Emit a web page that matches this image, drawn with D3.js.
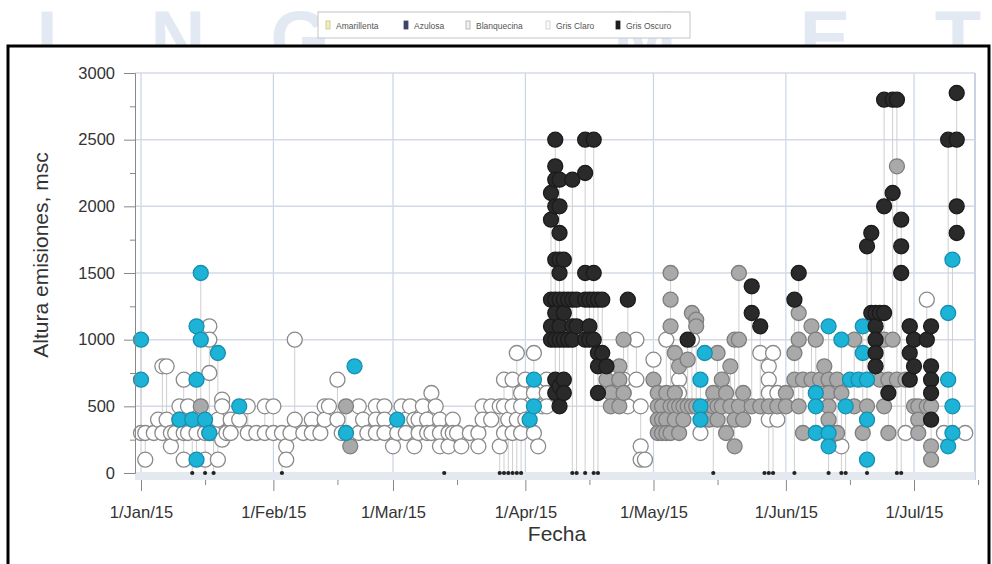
<!DOCTYPE html>
<html>
<head>
<meta charset="utf-8">
<script src="https://cdn.jsdelivr.net/npm/d3@7"></script>
<style>
  body { margin: 0; background: #fff; }
  svg { display: block; font-family: "Liberation Sans", Arial, sans-serif; }
</style>
</head>
<body>
<div id="chart"></div>
<script>
// observations per date: [month-day, [heights in m]]
const blanquecina = [
  ["01-01",[300]],["01-02",[300,100]],["01-04",[300]],["01-05",[400]],["01-06",[800,300]],["01-07",[800,400]],
  ["01-08",[300,200]],["01-09",[300]],["01-10",[500,400]],["01-11",[700,300,100]],["01-12",[500,300]],["01-14",[300]],
  ["01-16",[300,100]],["01-17",[1100,1000,750,300]],["01-18",[300]],["01-19",[400,100]],["01-20",[550,500,250]],
  ["01-21",[300]],["01-22",[400,300]],["01-24",[400]],["01-26",[500,300]],["01-28",[300]],["01-30",[500,300]],
  ["02-01",[500,300]],["02-03",[300]],["02-04",[200,100]],["02-05",[300]],["02-06",[1000,400]],["02-08",[300]],
  ["02-10",[400,300]],["02-12",[300]],["02-13",[500,400]],["02-14",[500]],["02-16",[700,400]],["02-17",[300]],
  ["02-21",[500,300]],["02-22",[400]],["02-23",[300]],["02-25",[500,400,300]],["02-27",[500,400,300]],
  ["03-01",[200]],["03-02",[300]],["03-03",[500]],["03-04",[400,300]],["03-05",[500]],["03-06",[400,200]],
  ["03-07",[400,300]],["03-08",[500]],["03-09",[400,300]],["03-10",[600,300]],["03-11",[500]],["03-12",[400,300,200]],
  ["03-14",[300,200]],["03-15",[400,300]],["03-16",[300]],["03-17",[200]],["03-19",[300]],["03-21",[300,200]],
  ["03-22",[500,400]],["03-24",[500,400]],["03-26",[500,200]],["03-27",[700,500,300]],["03-28",[400]],
  ["03-29",[700,500,300]],["03-30",[900,400]],["03-31",[600,500,300]],
  ["04-01",[700,400]],["04-03",[900,600,300]],["04-04",[200]],["04-05",[500]],["04-06",[700,600,500]],
  ["04-24",[700,600]],["04-25",[500]],["04-27",[1000,700]],["04-28",[500,200,100]],["04-29",[100]],
  ["05-01",[850]],["05-04",[1000]],["05-07",[700,600]],["05-10",[1000]],["05-12",[300]],
  ["05-26",[900]],["05-28",[800,700,600,400]],["05-29",[900]],["05-30",[600,400]],
  ["06-14",[200]],["06-29",[300]],["07-04",[1300]],["07-08",[300]],["07-13",[300]]
];

const azulosa = [
  ["01-01",[1000,700]],["01-10",[400]],["01-13",[400]],["01-14",[1100,700,100]],["01-15",[1500,1000]],
  ["01-16",[400]],["01-17",[300]],["01-19",[900]],["01-24",[500]],
  ["02-18",[300]],["02-20",[800]],["03-02",[400]],["04-02",[400]],["04-03",[700,500]],
  ["05-12",[700,500,400]],["05-13",[900]],
  ["06-08",[600,500,300]],["06-11",[1100,300,200]],["06-14",[1000]],["06-15",[500]],["06-16",[700]],
  ["06-18",[700]],["06-19",[1100,900]],["06-20",[700,400,100]],
  ["07-09",[1200,700,200]],["07-10",[1600,500,300]]
];

const grisClaro = [
  ["01-15",[500]],["02-18",[500]],["02-19",[200]],
  ["04-18",[900]],["04-20",[800,700]],["04-21",[600,500]],["04-23",[800,700,500]],["04-24",[1000,600]],
  ["05-01",[700]],["05-02",[600,500,400,300]],["05-03",[500,400,300]],["05-04",[600,400,300]],
  ["05-05",[1500,1300,1100,500,300]],["05-06",[900,600,500,400]],["05-07",[800,500,300]],["05-08",[500,400]],
  ["05-09",[850,500]],["05-10",[1200,500]],["05-11",[1150,1100,500]],["05-14",[500,400]],["05-15",[600,500]],
  ["05-16",[900,500,400]],["05-17",[700,500]],["05-18",[600,300]],["05-19",[800,500]],["05-20",[1000,400,200]],
  ["05-21",[1500,1000,500]],["05-22",[600,400]],["05-24",[500]],["05-26",[500]],["05-28",[500]],["05-30",[500]],
  ["06-01",[600,500]],["06-03",[900,700]],["06-04",[1200,1000,500]],["06-05",[700,300]],["06-07",[1100,700]],
  ["06-08",[1000]],["06-09",[700]],["06-10",[800]],["06-11",[700,600,500,400,300]],["06-12",[300]],
  ["06-13",[700,300]],["06-14",[600]],["06-17",[1000,500]],["06-19",[300]],["06-20",[500]],["06-23",[700]],
  ["06-24",[1000,500]],["06-25",[700,300]],["06-26",[1000]],["06-27",[2300,700]],["06-29",[700]],["06-30",[1100]],
  ["07-01",[500]],["07-02",[500,400,300]],["07-04",[500]],["07-05",[500,200,100]]
];

const grisOscuro = [
  ["04-07",[2100,1900,1300,1100,1000]],
  ["04-08",[2500,2300,2200,2000,1600,1300,1200,1000,700,600]],
  ["04-09",[2200,2000,1800,1600,1500,1300,1100,1000,650,500]],
  ["04-10",[1600,1300,1200,1000,700,600]],
  ["04-11",[1300,1000]],["04-12",[2200,1300,1100,1000]],["04-13",[1300,1100]],
  ["04-15",[2500,2250,1500,1300,1000]],["04-16",[1300,1100,1000]],["04-17",[2500,1500,1300,1000]],
  ["04-18",[1300,900,800,600]],["04-19",[1300,900]],["04-20",[800]],["04-25",[1300]],
  ["05-09",[1000]],["05-24",[1400,1200]],["05-26",[1100]],
  ["06-03",[1300]],["06-04",[1500]],
  ["06-20",[1700]],["06-21",[1800,1200]],["06-22",[1200,1100,1000,900,800]],["06-23",[1200]],
  ["06-24",[2800,2000,1200]],["06-25",[600]],["06-26",[2800,2100]],["06-27",[2800]],["06-28",[1900,1700,1500]],
  ["06-30",[1100,900,700]],["07-01",[1000,800]],["07-04",[1000]],["07-05",[1100,800,700,600,400]],
  ["07-09",[2500]],["07-11",[2850,2500,2000,1800]]
];

const amarillenta = [];

// dates with an eruption but no height reported
const sinAltura = [
  "01-13","01-16","01-18","02-03","03-13","03-26","03-27","03-28","03-29","03-30","03-31",
  "04-12","04-13","04-15","04-17","04-18","05-15","05-27","05-28","05-29",
  "06-03","06-11","06-14","06-15","06-20","06-27","06-28"
];

const legendNames = ["Amarillenta", "Azulosa", "Blanquecina", "Gris Claro", "Gris Oscuro"];
const yTicks = [0, 500, 1000, 1500, 2000, 2500, 3000];
const watermark = ["I", "N", "G", "M", "E", "T"];

const parse = d3.timeParse("%Y-%m-%d");
const day = (s) => parse("2015-" + s);

const w = 992;
const h = 564;
const plotLeft = 135, plotRight = 975, plotTop = 73, plotBottom = 480;

const svg = d3.select("#chart").append("svg").attr("width", w).attr("height", h);

// faint watermark letters behind the frame
const wmX = [47, 178, 300, 645, 825, 958];
svg.append("g").selectAll("text").data(watermark).enter().append("text")
  .attr("x", (d, i) => wmX[i]).attr("y", 64)
  .attr("text-anchor", "middle")
  .attr("font-size", 76)
  .attr("font-weight", "bold")
  .attr("fill", "#e2e9f3")
  .text((d) => d);

// black frame
svg.append("rect")
  .attr("x", 8).attr("y", 46)
  .attr("width", 981).attr("height", 540)
  .attr("fill", "#fff").attr("stroke", "#000").attr("stroke-width", 3);

// scales
const x = d3.scaleTime().domain([day("01-01"), day("07-01")]).range([141, 914]);
const y = d3.scaleLinear().domain([0, 3000]).range([473, 73]);

const months = d3.timeMonth.range(day("01-01"), day("07-02"));
const mids = months.map((m) => d3.timeDay.offset(m, 15));

// grid
const grid = svg.append("g");
grid.selectAll(".vg").data(months).enter().append("line")
  .attr("x1", (d) => x(d)).attr("x2", (d) => x(d))
  .attr("y1", plotTop).attr("y2", plotBottom)
  .attr("stroke", "#c9d4e6").attr("stroke-width", 1.2);
grid.selectAll(".hg").data(yTicks.slice(1)).enter().append("line")
  .attr("x1", plotLeft).attr("x2", plotRight)
  .attr("y1", (d) => y(d)).attr("y2", (d) => y(d))
  .attr("stroke", "#d4dbe6").attr("stroke-width", 1.5);
grid.append("line").attr("x1", plotRight).attr("x2", plotRight).attr("y1", plotTop).attr("y2", plotBottom)
  .attr("stroke", "#c9d3e2").attr("stroke-width", 2);
grid.append("rect").attr("x", plotLeft).attr("y", 472).attr("width", plotRight - plotLeft).attr("height", 8)
  .attr("fill", "#e4e9f0");

// flatten observations
const cats = [
  { name: "Blanquecina", rows: blanquecina, fill: "#ffffff", stroke: "#8a8a8a" },
  { name: "Gris Claro", rows: grisClaro, fill: "#a9a9a9", stroke: "#7e7e7e" },
  { name: "Amarillenta", rows: amarillenta, fill: "#f4efb8", stroke: "#b9b27a" },
  { name: "Azulosa", rows: azulosa, fill: "#1cb3d6", stroke: "#168fb0" },
  { name: "Gris Oscuro", rows: grisOscuro, fill: "#2a2a2a", stroke: "#1b1b1b" },
];
const points = [];
cats.forEach((c) => c.rows.forEach(([d, vals]) => vals.forEach((v) => points.push({ date: day(d), v, c }))));
sinAltura.forEach((d) => points.push({ date: day(d), v: 0, c: null }));

// vertical drop lines per date
const byDate = d3.rollups(points, (g) => d3.extent(g, (p) => p.v), (p) => +p.date);
svg.append("g").selectAll("line").data(byDate).enter().append("line")
  .attr("x1", (d) => x(new Date(d[0]))).attr("x2", (d) => x(new Date(d[0])))
  .attr("y1", (d) => y(d[1][0])).attr("y2", (d) => y(d[1][1]))
  .attr("stroke", "#cfcfcf").attr("stroke-width", 1);

// circles
svg.append("g").selectAll("circle").data(points.filter((p) => p.c)).enter().append("circle")
  .attr("cx", (d) => x(d.date)).attr("cy", (d) => y(d.v)).attr("r", 7.5)
  .attr("fill", (d) => d.c.fill).attr("stroke", (d) => d.c.stroke).attr("stroke-width", 1.3);

// no-height markers
svg.append("g").selectAll("path").data(points.filter((p) => !p.c)).enter().append("path")
  .attr("transform", (d) => `translate(${x(d.date)},${y(0)})`)
  .attr("d", d3.symbol(d3.symbolCircle, 14))
  .attr("fill", "#222");

// axes
const xAxis = svg.append("g").attr("transform", `translate(0,${plotBottom})`)
  .call(d3.axisBottom(x).tickValues(months).tickFormat(d3.timeFormat("%-d/%b/%y"))
    .tickSize(11).tickPadding(15));
svg.append("g").attr("transform", `translate(0,${plotBottom})`)
  .call(d3.axisBottom(x).tickValues(mids).tickSize(5))
  .call((g) => g.selectAll("text").remove())
  .call((g) => g.select(".domain").remove());
svg.append("g").attr("transform", `translate(${plotLeft},0)`)
  .call(d3.axisLeft(y).tickValues(yTicks).tickFormat(d3.format("d"))
    .tickSize(11).tickPadding(9).tickSizeOuter(0));
svg.append("g").attr("transform", `translate(${plotLeft},0)`)
  .call(d3.axisLeft(y).tickValues(d3.range(250, 3000, 500)).tickSize(5).tickSizeOuter(0))
  .call((g) => g.selectAll("text").remove());

svg.selectAll(".domain").attr("stroke", "#888");
svg.selectAll(".tick line").attr("stroke", "#888");
svg.selectAll(".tick text").attr("font-size", 16.5).attr("fill", "#333")
  .attr("font-family", "Liberation Sans, Arial, sans-serif");
xAxis.select(".domain").remove();

// axis titles
svg.append("text")
  .attr("transform", "translate(48,255) rotate(-90)")
  .attr("text-anchor", "middle").attr("font-size", 21).attr("fill", "#333")
  .text("Altura emisiones, msc");
svg.append("text")
  .attr("x", 557).attr("y", 541)
  .attr("text-anchor", "middle").attr("font-size", 21).attr("fill", "#333")
  .text("Fecha");

// legend
const legend = svg.append("g").attr("transform", "translate(318,12)");
legend.append("rect").attr("width", 372).attr("height", 26)
  .attr("fill", "#fff").attr("stroke", "#c4c4c4");
const legendX = [8, 86, 148, 228, 298];
const legendFill = ["#f2eeb8", "#3a4668", "#f2f2f2", "#fafafa", "#1e1e1e"];
const legendStroke = ["#c9c28a", "#3a4668", "#aaaaaa", "#cccccc", "#1e1e1e"];
const li = legend.selectAll("g").data(legendNames).enter().append("g")
  .attr("transform", (d, i) => `translate(${legendX[i]},0)`);
li.append("rect").attr("x", 0).attr("y", 9).attr("width", 4).attr("height", 8)
  .attr("fill", (d, i) => legendFill[i]).attr("stroke", (d, i) => legendStroke[i]).attr("stroke-width", 0.8);
li.append("text").attr("x", 10).attr("y", 16.5).attr("font-size", 8.5).attr("fill", "#555").text((d) => d);
</script>
</body>
</html>
